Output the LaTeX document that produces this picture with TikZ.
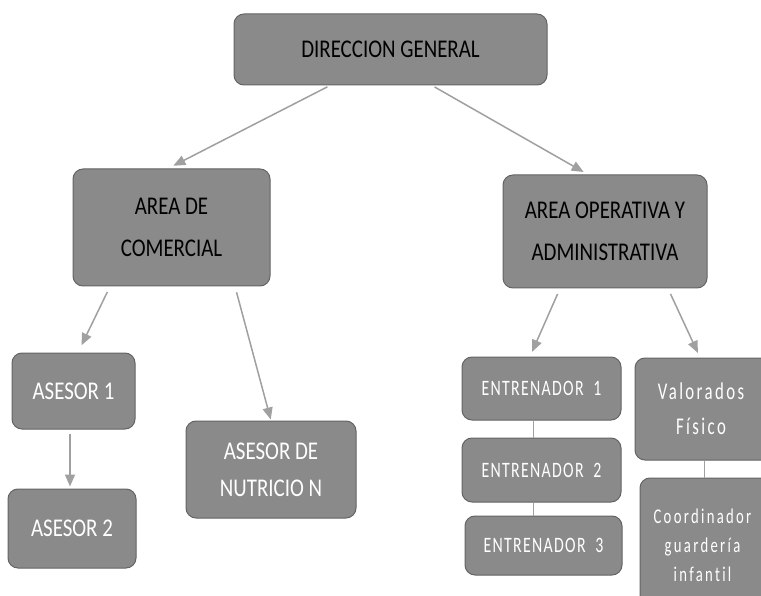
\documentclass[tikz,border=0pt]{standalone}
\usepackage{fontspec}
\setmainfont{Carlito}
\newfontfamily\ftop[FakeStretch=0.82,Ligatures=NoCommon]{Carlito}
\newfontfamily\fent[FakeStretch=0.72,LetterSpace=6,Ligatures=NoCommon]{Carlito}
\newfontfamily\fval[FakeStretch=0.7,LetterSpace=10,Ligatures=NoCommon]{Carlito}
\newfontfamily\fco[FakeStretch=0.7,LetterSpace=11,Ligatures=NoCommon]{Carlito}
\usetikzlibrary{arrows.meta}
\definecolor{boxfill}{RGB}{138,138,138}
\definecolor{boxline}{RGB}{100,100,100}
\definecolor{arr}{RGB}{160,160,160}
\begin{document}
\begin{tikzpicture}[x=1pt,y=-1pt,
 box/.style={draw=boxline, line width=1pt, fill=boxfill, rounded corners=10pt, inner sep=0pt, align=center},
 toptext/.style={text=black, font=\ftop\fontsize{25.5}{42}\selectfont},
 lowtext/.style={text=white, font=\ftop\fontsize{25.5}{37}\selectfont},
 enttext/.style={text=white, font=\fent\fontsize{22}{24}\selectfont},
 conn/.style={draw=arr, line width=1.5pt},
 arrowc/.style={conn, -{Triangle[width=10pt,length=12pt]}},
 plain/.style={draw=arr, line width=1pt}]
\clip (0,0) rectangle (761,596);
\fill[white] (0,0) rectangle (761,596);
% boxes
\node[box, toptext, minimum width=313pt, minimum height=71pt] (dg) at (390.5,49.5) {DIRECCION GENERAL};
\node[box, toptext, minimum width=197pt, minimum height=117pt] (com) at (171.5,227.5) {AREA DE\\COMERCIAL};
\node[box, toptext, minimum width=204pt, minimum height=113pt] (op) at (605,231.5) {AREA OPERATIVA Y\\ADMINISTRATIVA};
\node[box, lowtext, minimum width=123pt, minimum height=76pt] (a1) at (73.5,391) {ASESOR 1};
\node[box, lowtext, minimum width=128pt, minimum height=79pt] (a2) at (72,528.5) {ASESOR 2};
\node[box, lowtext, minimum width=170pt, minimum height=97pt] (nut) at (271,469.5) {ASESOR DE\\NUTRICIO N};
\node[box, enttext, minimum width=159pt, minimum height=63pt] (e1) at (541.5,388.5) {ENTRENADOR~~1};
\node[box, enttext, minimum width=159pt, minimum height=64pt] (e2) at (541.5,470) {ENTRENADOR~~2};
\node[box, enttext, minimum width=157pt, minimum height=59pt] (e3) at (543.5,545.5) {ENTRENADOR~~3};
\node[box, text=white, font=\fval\fontsize{24}{35}\selectfont, minimum width=140pt, minimum height=102pt] (vf) at (705,409) {\hspace*{-8pt}Valorados\\\hspace*{-8pt}Físico};
\node[box, text=white, font=\fco\fontsize{21}{29}\selectfont, minimum width=135pt, minimum height=134pt] (co) at (707.5,545) {\hspace*{-10pt}Coordinador\\\hspace*{-10pt}guardería\\\hspace*{-10pt}infantil};
% connectors
\draw[arrowc, shorten <=3pt, shorten >=6pt] ([xshift=-60.5pt]dg.south) -- ([xshift=-3.5pt]com.north);
\draw[arrowc, shorten <=3pt, shorten >=5pt] ([xshift=41.5pt]dg.south) -- ([xshift=-17pt]op.north);
\draw[arrowc, shorten <=6pt, shorten >=8pt] ([xshift=-61.5pt]com.south) -- ([xshift=4.5pt]a1.north);
\draw[arrowc, shorten <=6pt, shorten >=1pt] ([xshift=63.5pt]com.south) -- (nut.north);
\draw[arrowc, shorten <=4pt, shorten >=2pt] ([xshift=-3.5pt]a1.south) -- ([xshift=-2pt]a2.north);
\draw[arrowc, shorten <=6pt, shorten >=5pt] ([xshift=-45pt]op.south) -- ([xshift=-11.5pt]e1.north);
\draw[arrowc, shorten <=6pt, shorten >=5pt] ([xshift=63pt]op.south) -- ([xshift=-5pt]vf.north);
\draw[plain] ([xshift=-8.5pt]e1.south) -- ([xshift=-8.5pt]e2.north);
\draw[plain] ([xshift=-8.5pt]e2.south) -- ([xshift=-10.5pt]e3.north);
\draw[plain] ([xshift=-1pt]vf.south) -- ([xshift=-3.5pt]co.north);
\end{tikzpicture}
\end{document}
